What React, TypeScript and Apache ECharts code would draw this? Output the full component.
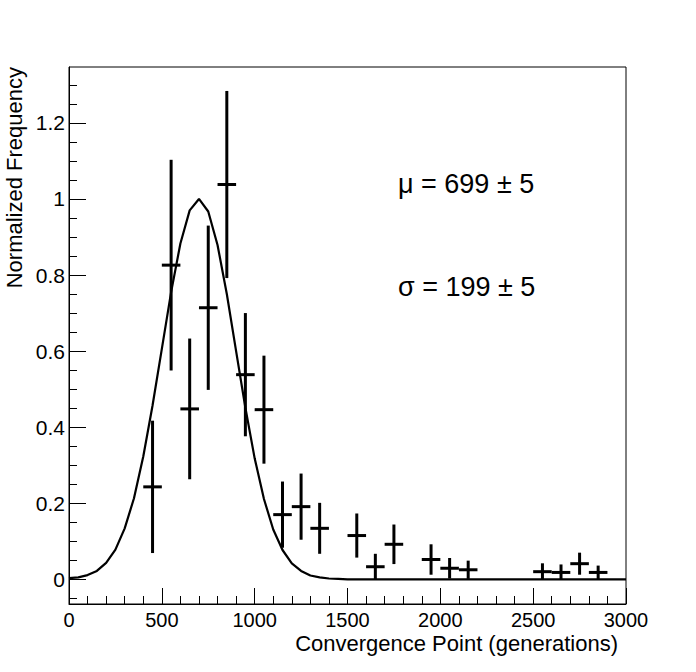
import React, { useEffect, useRef } from "react";
import * as echarts from "echarts";

// Histogram bins (bin centres, normalized contents, errors)
const binCenters = [450, 550, 650, 750, 850, 950, 1050, 1150, 1250, 1350, 1550, 1650, 1750, 1950, 2050, 2150, 2550, 2650, 2750, 2850];
const binValues = [0.243, 0.826, 0.448, 0.714, 1.038, 0.538, 0.446, 0.170, 0.191, 0.134, 0.115, 0.033, 0.092, 0.052, 0.029, 0.025, 0.020, 0.018, 0.041, 0.018];
const binErrors = [0.174, 0.277, 0.185, 0.216, 0.246, 0.162, 0.142, 0.087, 0.087, 0.067, 0.058, 0.034, 0.052, 0.040, 0.027, 0.024, 0.022, 0.021, 0.029, 0.018];
const binWidth = 100;

// Fitted curve
const curveX = [0, 50, 100, 150, 200, 250, 300, 350, 400, 450, 500, 550, 600, 650, 700, 750, 800, 850, 900, 950, 1000, 1050, 1100, 1150, 1200, 1250, 1300, 1350, 1400, 1450, 1500, 3000];
const curveY = [0.003, 0.005, 0.011, 0.022, 0.043, 0.078, 0.134, 0.213, 0.323, 0.457, 0.606, 0.755, 0.883, 0.970, 1.0, 0.967, 0.879, 0.75, 0.6, 0.451, 0.318, 0.211, 0.131, 0.077, 0.042, 0.022, 0.010, 0.005, 0.002, 0.001, 0, 0];

// Axis ticks
const yMajorTicks = [0, 0.2, 0.4, 0.6, 0.8, 1, 1.2];
const yMinorTicks = [-0.05, 0, 0.05, 0.1, 0.15, 0.2, 0.25, 0.3, 0.35, 0.4, 0.45, 0.5, 0.55, 0.6, 0.65, 0.7, 0.75, 0.8, 0.85, 0.9, 0.95, 1, 1.05, 1.1, 1.15, 1.2, 1.25, 1.3];

const xTitle = "Convergence Point (generations)";
const yTitle = "Normalized Frequency";
const muText = "\u03bc = 699 \u00b1 5";
const sigmaText = "\u03c3 = 199 \u00b1 5";

const FONT = "'Liberation Sans', Arial, Helvetica, sans-serif";

export default function App() {
  const ref = useRef<HTMLDivElement>(null);
  useEffect(() => {
    if (!ref.current) return;
    const chart = echarts.init(ref.current, null, { renderer: "svg" });
    const errData = binCenters.map((c, i) => [c, binValues[i], binErrors[i]]);
    const curveData = curveX.map((x, i) => [x, curveY[i]]);
    const yMin = -0.065;
    const yMax = 1.347;
    chart.setOption({
      animation: false,
      backgroundColor: "#fff",
      textStyle: { fontFamily: FONT },
      grid: {
        left: 69,
        right: 70,
        top: 67,
        bottom: 68,
        show: true,
        borderColor: "#000",
        borderWidth: 1,
        backgroundColor: "transparent",
      },
      xAxis: {
        type: "value",
        min: 0,
        max: 3000,
        interval: 500,
        axisLine: { show: true, onZero: false, lineStyle: { color: "#000", width: 1 } },
        axisTick: { show: true, inside: true, length: 16, lineStyle: { color: "#000", width: 1 } },
        minorTick: { show: true, splitNumber: 5, length: 8, lineStyle: { color: "#000", width: 1 } },
        axisLabel: { color: "#000", fontSize: 20, lineHeight: 18, fontFamily: FONT, margin: 7, formatter: (v: number) => String(v) },
        splitLine: { show: false },
        minorSplitLine: { show: false },
      },
      yAxis: [
        {
          type: "value",
          min: yMin,
          max: yMax,
          axisLine: { show: true, onZero: false, lineStyle: { color: "#000", width: 1 } },
          axisTick: { show: true, inside: true, length: 17, customValues: yMajorTicks, lineStyle: { color: "#000", width: 1 } },
          axisLabel: { show: true, customValues: yMajorTicks, color: "#000", fontSize: 21, fontFamily: FONT, margin: 4, formatter: (v: number) => String(v) },
          splitLine: { show: false },
        },
        {
          type: "value",
          min: yMin,
          max: yMax,
          position: "left",
          axisLine: { show: false, onZero: false },
          axisTick: { show: true, inside: true, length: 8, customValues: yMinorTicks, lineStyle: { color: "#000", width: 1 } },
          axisLabel: { show: false },
          splitLine: { show: false },
        },
      ],
      series: [
        {
          type: "line",
          data: curveData,
          yAxisIndex: 0,
          symbol: "none",
          smooth: false,
          lineStyle: { color: "#000", width: 2.2 },
          z: 2,
        },
        {
          type: "custom",
          yAxisIndex: 0,
          data: errData,
          z: 3,
          renderItem: (params: any, api: any) => {
            const x = api.value(0);
            const y = api.value(1);
            const e = api.value(2);
            const l = api.coord([x - binWidth / 2, y]);
            const r = api.coord([x + binWidth / 2, y]);
            const t = api.coord([x, y + e]);
            const b = api.coord([x, Math.max(y - e, 0)]);
            const st = { stroke: "#000", lineWidth: 3 };
            return {
              type: "group",
              children: [
                { type: "line", shape: { x1: l[0], y1: l[1], x2: r[0], y2: r[1] }, style: st },
                { type: "line", shape: { x1: t[0], y1: t[1], x2: b[0], y2: b[1] }, style: st },
              ],
            };
          },
        },
      ],
      graphic: [
        {
          type: "text",
          x: 618,
          y: 643,
          style: { text: xTitle, align: "right", verticalAlign: "middle", fontSize: 22, lineHeight: 22, fontFamily: FONT, fill: "#000" },
        },
        {
          type: "text",
          x: 14,
          y: 67,
          rotation: Math.PI / 2,
          style: { text: yTitle, align: "right", verticalAlign: "middle", fontSize: 22, fontFamily: FONT, fill: "#000" },
        },
        {
          type: "text",
          x: 398,
          y: 184,
          style: { text: muText, align: "left", verticalAlign: "middle", fontSize: 27, fontFamily: FONT, fill: "#000" },
        },
        {
          type: "text",
          x: 398,
          y: 287,
          style: { text: sigmaText, align: "left", verticalAlign: "middle", fontSize: 27, fontFamily: FONT, fill: "#000" },
        },
      ],
    });
    return () => chart.dispose();
  }, []);
  return (
    <div
      ref={ref}
      style={{ position: "fixed", left: 0, top: 0, width: 696, height: 672, background: "#fff" }}
    />
  );
}
